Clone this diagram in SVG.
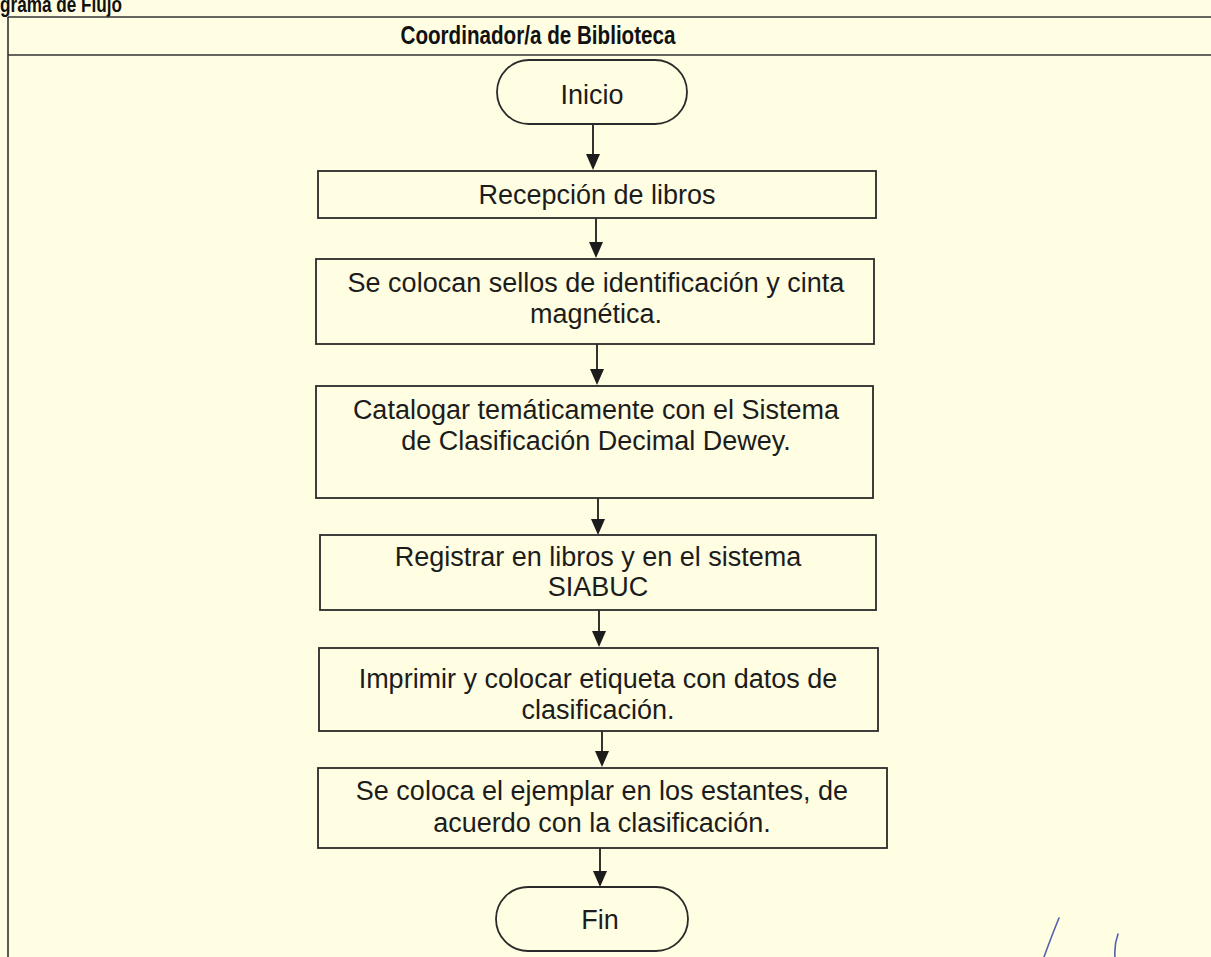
<svg xmlns="http://www.w3.org/2000/svg" width="1211" height="957" viewBox="0 0 1211 957">
<defs>
<style>
.frame{fill:none;stroke:#333;stroke-width:1.6}
.box{fill:none;stroke:#2a2a2a;stroke-width:1.8}
.t{font-family:"Liberation Sans",Arial,sans-serif;font-size:27px;fill:#1c1c1c;text-anchor:middle}
.h{font-family:"Liberation Sans",Arial,sans-serif;font-weight:bold;fill:#111}
.c{stroke:#1c1c1c;stroke-width:1.8;fill:none}
.ah{fill:#1c1c1c}
</style>
</defs>
<rect x="0" y="0" width="1211" height="957" fill="#fffee2"/>
<g id="frame">
<text class="h" x="0" y="12" font-size="22" textLength="122" lengthAdjust="spacingAndGlyphs">grama de Flujo</text>
<line class="frame" x1="8" y1="17" x2="1211" y2="17"/>
<line class="frame" x1="8" y1="55" x2="1211" y2="55"/>
<line class="frame" x1="8" y1="17" x2="8" y2="957"/>
<text class="h" x="538" y="44" font-size="26" text-anchor="middle" textLength="275" lengthAdjust="spacingAndGlyphs">Coordinador/a de Biblioteca</text>
</g>
<g id="connectors">
<line class="c" x1="593" y1="124" x2="593" y2="156"/>
<path class="ah" d="M586,154 L600,154 L593,170 Z"/>
<line class="c" x1="596" y1="218" x2="596" y2="244"/>
<path class="ah" d="M589,242 L603,242 L596,258 Z"/>
<line class="c" x1="597" y1="344" x2="597" y2="371"/>
<path class="ah" d="M590,369 L604,369 L597,385 Z"/>
<line class="c" x1="598" y1="498" x2="598" y2="521"/>
<path class="ah" d="M591,519 L605,519 L598,535 Z"/>
<line class="c" x1="599" y1="610" x2="599" y2="633"/>
<path class="ah" d="M592,631 L606,631 L599,647 Z"/>
<line class="c" x1="602" y1="731" x2="602" y2="753"/>
<path class="ah" d="M595,751 L609,751 L602,767 Z"/>
<line class="c" x1="600" y1="848" x2="600" y2="873"/>
<path class="ah" d="M593,871 L607,871 L600,887 Z"/>
</g>
<g id="inicio">
<rect class="box" x="497" y="60" width="190" height="64" rx="32" ry="32"/>
<text class="t" x="592" y="104">Inicio</text>
</g>
<g id="recepcion">
<rect class="box" x="318" y="171" width="558" height="47"/>
<text class="t" x="597" y="204">Recepción de libros</text>
</g>
<g id="sellos">
<rect class="box" x="316" y="259" width="558" height="85"/>
<text class="t" x="596" y="292">Se colocan sellos de identificación y cinta</text>
<text class="t" x="596" y="323">magnética.</text>
</g>
<g id="catalogar">
<rect class="box" x="316" y="386" width="557" height="112"/>
<text class="t" x="596" y="419">Catalogar temáticamente con el Sistema</text>
<text class="t" x="596" y="450">de Clasificación Decimal Dewey.</text>
</g>
<g id="registrar">
<rect class="box" x="320" y="535" width="556" height="75"/>
<text class="t" x="598" y="566">Registrar en libros y en el sistema</text>
<text class="t" x="598" y="596">SIABUC</text>
</g>
<g id="imprimir">
<rect class="box" x="319" y="648" width="559" height="83"/>
<text class="t" x="598" y="688">Imprimir y colocar etiqueta con datos de</text>
<text class="t" x="598" y="719">clasificación.</text>
</g>
<g id="ejemplar">
<rect class="box" x="318" y="768" width="569" height="80"/>
<text class="t" x="602" y="800">Se coloca el ejemplar en los estantes, de</text>
<text class="t" x="602" y="832">acuerdo con la clasificación.</text>
</g>
<g id="fin">
<rect class="box" x="496" y="887" width="192" height="64" rx="32" ry="32"/>
<text class="t" x="600" y="929">Fin</text>
</g>
<g id="firma" fill="none" stroke="#5560b0" stroke-width="1.6" stroke-linecap="round">
<path d="M1059,918 Q1052,935 1044,957"/>
<path d="M1118,934 Q1114,945 1115,957"/>
</g>
</svg>
